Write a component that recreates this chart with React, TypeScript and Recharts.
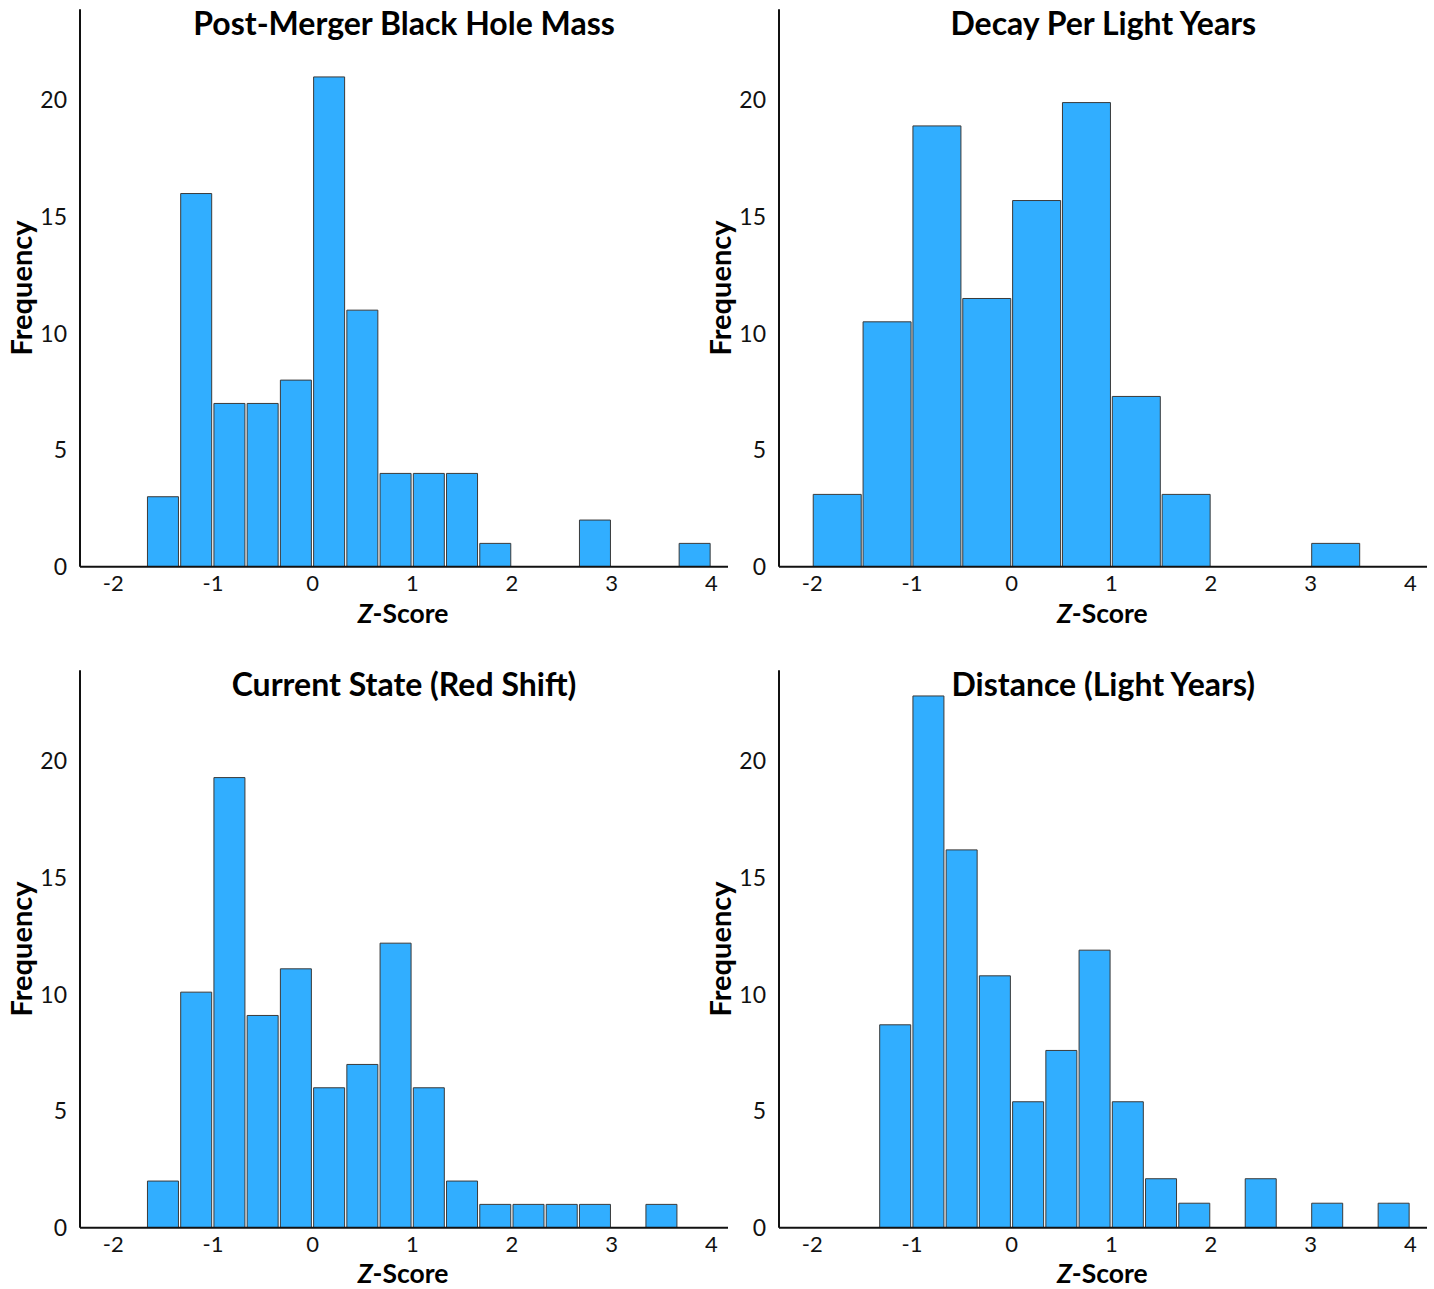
import React from 'react';
import { BarChart, Bar, XAxis, YAxis } from 'recharts';

const FONT = 'Lato, "Open Sans", "DejaVu Sans", sans-serif';

// Bin centers (Z-score) for each histogram
const binsThirdsFrom5 = [-1.5, -1.1667, -0.8333, -0.5, -0.1667, 0.1667, 0.5, 0.8333, 1.1667, 1.5, 1.8333, 2.1667, 2.5, 2.8333, 3.1667, 3.5, 3.8333];
const binsHalves = [-1.75, -1.25, -0.75, -0.25, 0.25, 0.75, 1.25, 1.75, 2.25, 2.75, 3.25];
const binsThirdsFrom4 = [-1.1667, -0.8333, -0.5, -0.1667, 0.1667, 0.5, 0.8333, 1.1667, 1.5, 1.8333, 2.1667, 2.5, 2.8333, 3.1667, 3.5, 3.8333];

// Frequencies
const massFreq = [3, 16, 7, 7, 8, 21, 11, 4, 4, 4, 1, 0, 0, 2, 0, 0, 1];
const decayFreq = [3.1, 10.5, 18.9, 11.5, 15.7, 19.9, 7.3, 3.1, 0, 0, 1.0];
const redShiftFreq = [2, 10.1, 19.3, 9.1, 11.1, 6, 7, 12.2, 6, 2, 1, 1, 1, 1, 0, 1, 0];
const distanceFreq = [8.7, 22.8, 16.2, 10.8, 5.4, 7.6, 11.9, 5.4, 2.1, 1.05, 0, 2.1, 0, 1.05, 0, 1.05];

const titles = ['Post-Merger Black Hole Mass', 'Decay Per Light Years', 'Current State (Red Shift)', 'Distance (Light Years)'];
const xTicks = [-2, -1, 0, 1, 2, 3, 4];
const yTicks = [0, 5, 10, 15, 20];
const xDomain: [number, number] = [-7 / 3, 25 / 6];
const yDomain: [number, number] = [0, 23.9];

const PLOT_LEFT = 80;
const PLOT_TOP = 9.3;
const PLOT_W = 648;
const PLOT_H = 557.4;
const W = 740;
const H = 640;
const X_AXIS_H = 40;

type PanelProps = { left: number; top: number; title: string; bins: number[]; values: number[] };

function Panel({ left, top, title, bins, values }: PanelProps) {
  const data = bins.map((b, i) => ({ z: b, freq: values[i] }));
  const plotBottom = PLOT_TOP + PLOT_H;
  return (
    <div style={{ position: 'absolute', left, top, width: W, height: H }}>
      <BarChart
        width={W}
        height={H}
        data={data}
        margin={{ top: PLOT_TOP, left: 20, right: W - PLOT_LEFT - PLOT_W, bottom: H - plotBottom - X_AXIS_H }}
        barCategoryGap={1}
      >
        <XAxis
          dataKey="z"
          type="number"
          domain={xDomain}
          ticks={xTicks}
          allowDataOverflow
          interval={0}
          tickLine={false}
          axisLine={{ stroke: '#111', strokeWidth: 2 }}
          tick={{ fill: '#111', fontSize: 22, fontFamily: FONT }}
          tickSize={6}
          tickMargin={3}
          height={X_AXIS_H}
        />
        <YAxis
          type="number"
          domain={yDomain}
          ticks={yTicks}
          allowDataOverflow
          interval={0}
          tickLine={false}
          axisLine={{ stroke: '#111', strokeWidth: 2 }}
          tick={{ fill: '#111', fontSize: 23, fontFamily: FONT }}
          tickSize={6}
          tickMargin={7}
          width={60}
        />
        <Bar dataKey="freq" fill="#31AEFF" stroke="#3a3a3a" strokeWidth={1} isAnimationActive={false} />
      </BarChart>
      <div
        style={{
          position: 'absolute', left: PLOT_LEFT - 20, width: PLOT_W + 40, top: PLOT_TOP + 14 - 18, height: 36, lineHeight: '36px',
          textAlign: 'center', fontFamily: FONT, fontWeight: 700, fontSize: 32, color: '#000', whiteSpace: 'nowrap',
        }}
      >
        {title}
      </div>
      <div
        style={{
          position: 'absolute', left: PLOT_LEFT - 59 - 150, width: 300, top: PLOT_TOP + PLOT_H / 2 - 16, height: 32, lineHeight: '32px',
          textAlign: 'center', fontFamily: FONT, fontWeight: 700, fontSize: 29, color: '#000', transform: 'rotate(-90deg)', whiteSpace: 'nowrap',
        }}
      >
        Frequency
      </div>
      <div
        style={{
          position: 'absolute', left: PLOT_LEFT - 1, width: PLOT_W, top: plotBottom + 46 - 12, height: 24, lineHeight: '24px',
          textAlign: 'center', fontFamily: FONT, fontWeight: 700, fontSize: 26.5, color: '#000', whiteSpace: 'nowrap',
        }}
      >
        <span style={{ fontStyle: 'italic' }}>Z</span>-Score
      </div>
    </div>
  );
}

export default function App() {
  return (
    <div style={{ position: 'absolute', left: 0, top: 0, width: 1434, height: 1289, overflow: 'hidden', background: '#fff' }}>
      <Panel left={0} top={0} title={titles[0]} bins={binsThirdsFrom5} values={massFreq} />
      <Panel left={699.3} top={0} title={titles[1]} bins={binsHalves} values={decayFreq} />
      <Panel left={0} top={660.7} title={titles[2]} bins={binsThirdsFrom5} values={redShiftFreq} />
      <Panel left={699.3} top={660.7} title={titles[3]} bins={binsThirdsFrom4} values={distanceFreq} />
    </div>
  );
}
